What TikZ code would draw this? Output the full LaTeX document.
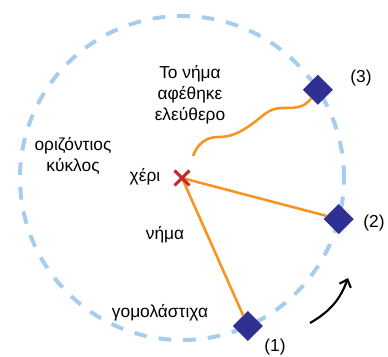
\documentclass[tikz,border=0pt]{standalone}
\usepackage{fontspec}
\setmainfont{Liberation Sans}
\usetikzlibrary{arrows.meta,shapes.misc}
\definecolor{turuncu}{HTML}{F7931E}
\definecolor{kirmizi}{HTML}{C1272D}
\definecolor{lacivert}{HTML}{2E3192}
\definecolor{acikMavi}{HTML}{A6CDEE}

\begin{document}
\begin{tikzpicture}[x=0.75pt,y=0.75pt,
  ip/.style={turuncu,line width=1.9pt},
  agirlik/.style={fill=lacivert,rectangle,rotate=45,minimum size=16pt,inner sep=0pt},
  etiket/.style={font=\fontsize{13}{15.8}\selectfont,align=center,inner sep=0pt}]
\useasboundingbox (-182,-178) rectangle (206,178);
\draw[acikMavi,line width=3pt,dash pattern=on 9.5pt off 9pt] (0,0) circle[radius=162];
\coordinate (el) at (0,0);
\node[agirlik] (d1) at (-66:162) {};
\node[agirlik] (d2) at (-14.7:162) {};
\node[agirlik] (d3) at (33:162) {};
\draw[ip] (el) -- (d1);
\draw[ip] (el) -- (d2);
% serbest kalan ip
\coordinate (ipUcu) at (11,22);
\draw[ip] (ipUcu) to[out=70,in=180] (36,41) to[out=0,in=215] (70,54)
  to[out=35,in=180] (100,70) to[out=0,in=210] (d3);
\node[cross out,draw=kirmizi,line width=2.2pt,minimum size=9pt,inner sep=0pt] (elIsaret) at (el) {};
% donme yonu
\coordinate (okBas) at (128,-145);
\coordinate (okUc) at (166,-100);
\draw[-{Straight Barb[length=5pt,width=9pt]},line width=1.6pt] (okBas) to[bend right=20] (okUc);
\node[etiket] (serbest) at (8,83) {Το νήμα\\αφέθηκε\\ελεύθερο};
\node[etiket] (yatay) at (-109,22) {οριζόντιος\\κύκλος};
\node[etiket] (elEt) at (-37,1) {χέρι};
\node[etiket] (ipEt) at (-17,-57) {νήμα};
\node[etiket] (silgi) at (-22,-135) {γομολάστιχα};
\node[etiket] (n1) at (93,-169) {(1)};
\node[etiket] (n2) at (192,-45) {(2)};
\node[etiket] (n3) at (179,100) {(3)};
\end{tikzpicture}
\end{document}
